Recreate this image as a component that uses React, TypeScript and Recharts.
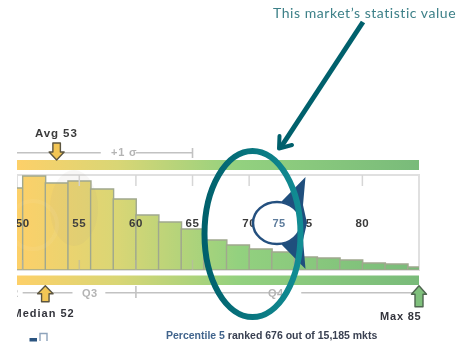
import React from "react";
import { ComposedChart, Bar, XAxis, YAxis, ReferenceArea, ReferenceLine, ReferenceDot } from "recharts";

const binCenters = [49, 51, 53, 55, 57, 59, 61, 63, 65, 67, 69, 71, 73, 75, 77, 79, 81, 83, 85];
const binHeights = [82, 94, 87, 89, 81, 71, 55, 48, 41, 30, 25, 21, 18, 13, 12, 10, 7, 6, 3];
const tickValues = [50, 55, 60, 65, 70, 75, 80];
const topTickValues = [55, 60, 65, 70, 80];
const bottomTickValues = [50, 55, 60, 65];
const avgValue = 53;
const medianValue = 52;
const maxValue = 85;
const sigmaEnd = 65;
const q3End = 60;
const xMin = 49.5;
const xMax = 85;

const data = binCenters.map((x, i) => ({ x, h: binHeights[i] }));

const WIDTH = 466;
const HEIGHT = 355;
const BASE = 270; // pixel row of zero
const py = (px: number) => BASE - px;
const FONT = '"Liberation Sans", Arial, sans-serif';
const GREY = "#c2c2c2";

const arrowShape = (dir: "up" | "down", fill: string, stroke: string, len: number, headW: number, shaftW: number, headLen: number) => (p: any) => {
  const { cx, cy } = p;
  const s = dir === "down" ? -1 : 1;
  const pts = [
    [0, 0],
    [headW / 2, s * headLen],
    [shaftW / 2, s * headLen],
    [shaftW / 2, s * len],
    [-shaftW / 2, s * len],
    [-shaftW / 2, s * headLen],
    [-headW / 2, s * headLen],
  ]
    .map(([a, b]) => `${cx + a},${cy + b}`)
    .join(" ");
  return <polygon points={pts} fill={fill} stroke={stroke} strokeWidth={1.4} strokeLinejoin="round" />;
};

function Overlay() {
  return (
    <svg width={WIDTH} height={HEIGHT} style={{ position: "absolute", left: 0, top: 0 }}>
      <defs>
        <linearGradient id="ring" x1="0" y1="0" x2="1" y2="0">
          <stop offset="0%" stopColor="#00606c" />
          <stop offset="100%" stopColor="#128d94" />
        </linearGradient>
      </defs>
      {/* faint watermark over the bars */}
      <ellipse cx={74} cy={208} rx={24} ry={38} fill="#a89a90" opacity={0.08} />
      <circle cx={33} cy={225} r={24} fill="none" stroke="#ffffff" strokeWidth={4} opacity={0.06} />
      {/* text outside the plot */}
      <text x={35} y={137} fontFamily={FONT} fontWeight={700} fontSize={11.5} letterSpacing={0.9} fill="#3b3b3b">Avg 53</text>
      <text x={111} y={156} fontFamily={FONT} fontWeight={700} fontSize={11} letterSpacing={0.8} fill="#b4b4b4">+1 σ</text>
      <text x={3} y={297} fontFamily={FONT} fontWeight={700} fontSize={11} letterSpacing={0.4} fill="#b4b4b4">Q2</text>
      <text x={82} y={297} fontFamily={FONT} fontWeight={700} fontSize={11} letterSpacing={0.4} fill="#b4b4b4">Q3</text>
      <text x={268} y={297} fontFamily={FONT} fontWeight={700} fontSize={11} letterSpacing={0.4} fill="#b4b4b4">Q4</text>
      <text x={12.5} y={317} fontFamily={FONT} fontWeight={700} fontSize={11} letterSpacing={1} fill="#33343c">Median 52</text>
      <text x={380} y={320} fontFamily={FONT} fontWeight={700} fontSize={11} letterSpacing={0.8} fill="#33343c">Max 85</text>
      <text x={166} y={339} fontFamily={FONT} fontWeight={700} fontSize={10.5} fill="#41648c">
        Percentile 5<tspan fill="#3a4152"> ranked 676 out of 15,185 mkts</tspan>
      </text>
      <rect x={0} y={120} width={17} height={210} fill="#fff" />
      {/* small legend glyph */}
      <rect x={29.5} y={338} width={7.5} height={3.5} fill="#2b5480" />
      <path d="M40 341 V333.5 H47 V341" fill="none" stroke="#8ea3bb" strokeWidth={1.4} />
      {/* annotation */}
      <text x={273} y={18} fontFamily='"Lato", sans-serif' fontSize={14} letterSpacing={0.55} fill="#3d8088">This market’s statistic value</text>
      <polygon points="305.5,177 282,201 282,245 305.5,269 303,240 307,223 303,205" fill="#1f4f7d" />
      <ellipse cx={277} cy={223} rx={24} ry={21} fill="#fff" stroke="#24507f" strokeWidth={2.5} />
      <text x={279} y={227} textAnchor="middle" fontFamily={FONT} fontWeight={700} fontSize={11} letterSpacing={0.4} fill="#5d7c9c">75</text>
      <ellipse cx={252.5} cy={234} rx={48} ry={83} fill="none" stroke="url(#ring)" strokeWidth={6} />
      <path d="M363 22 L281 147" stroke="#00606c" strokeWidth={5} fill="none" />
      <path d="M279.5 136 L279 148.5 L292 145" stroke="#00606c" strokeWidth={4} strokeLinecap="round" strokeLinejoin="round" fill="none" />
    </svg>
  );
}

export default function App() {
  return (
    <div style={{ position: "absolute", left: 0, top: 0, width: WIDTH, height: HEIGHT, background: "#fff", overflow: "hidden", filter: "blur(0.35px)" }}>
      <ComposedChart width={WIDTH} height={HEIGHT} data={data} margin={{ top: 175, right: 47, bottom: 85, left: 17 }} barCategoryGap={0} barGap={0}>
        <defs>
          <linearGradient id="heat" gradientUnits="userSpaceOnUse" x1={17} y1={0} x2={419} y2={0}>
            <stop offset="0%" stopColor="#fdd069" />
            <stop offset="25%" stopColor="#d9d675" />
            <stop offset="55%" stopColor="#93d17f" />
            <stop offset="100%" stopColor="#79bb7a" />
          </linearGradient>
        </defs>
        <XAxis dataKey="x" type="number" domain={[xMin, xMax]} allowDataOverflow hide />
        <YAxis hide type="number" domain={[0, 95]} allowDataOverflow />
        <Bar dataKey="h" fill="url(#heat)" stroke="#a0a88e" strokeWidth={1.4} isAnimationActive={false} />
        <ReferenceArea x1={xMin} x2={xMax} y1={0} y2={95} fill="none" stroke="#e0e0e0" strokeWidth={2} ifOverflow="visible" />
        <ReferenceArea x1={xMin} x2={xMax} y1={py(170)} y2={py(160)} fill="url(#heat)" fillOpacity={1} ifOverflow="visible" />
        <ReferenceArea x1={xMin} x2={xMax} y1={py(285)} y2={py(275.5)} fill="url(#heat)" fillOpacity={1} ifOverflow="visible" />
        {topTickValues.map((v) => (
          <ReferenceLine key={"t" + v} segment={[{ x: v, y: py(175) }, { x: v, y: py(186) }]} stroke="#d6d6d6" strokeWidth={1.5} ifOverflow="visible" />
        ))}
        {bottomTickValues.map((v) => (
          <ReferenceLine key={"b" + v} segment={[{ x: v, y: py(260) }, { x: v, y: py(270) }]} stroke="#b8b8a8" strokeOpacity={0.6} strokeWidth={1.5} ifOverflow="visible" />
        ))}
        {tickValues.map((v) => (
          <ReferenceDot
            key={"l" + v}
            x={v}
            y={py(223)}
            ifOverflow="visible"
            shape={(p: any) => (
              <text x={p.cx} y={p.cy + 4} textAnchor="middle" fontFamily={FONT} fontWeight={700} fontSize={11.5} letterSpacing={0.6} fill="#3a3a3a">
                {v}
              </text>
            )}
          />
        ))}
        <ReferenceLine segment={[{ x: xMin, y: py(152.7) }, { x: 56.9, y: py(152.7) }]} stroke={GREY} strokeWidth={1.6} ifOverflow="visible" />
        <ReferenceLine segment={[{ x: 60, y: py(152.7) }, { x: sigmaEnd, y: py(152.7) }]} stroke={GREY} strokeWidth={1.6} ifOverflow="visible" />
        <ReferenceLine segment={[{ x: sigmaEnd, y: py(148) }, { x: sigmaEnd, y: py(158) }]} stroke={GREY} strokeWidth={1.6} ifOverflow="visible" />
        <ReferenceLine segment={[{ x: 50, y: py(292.7) }, { x: 54.4, y: py(292.7) }]} stroke={GREY} strokeWidth={1.6} ifOverflow="visible" />
        <ReferenceLine segment={[{ x: 57.3, y: py(292.7) }, { x: 72.7, y: py(292.7) }]} stroke={GREY} strokeWidth={1.6} ifOverflow="visible" />
        <ReferenceLine segment={[{ x: 74.6, y: py(292.7) }, { x: xMax, y: py(292.7) }]} stroke={GREY} strokeWidth={1.6} ifOverflow="visible" />
        <ReferenceLine segment={[{ x: q3End, y: py(286) }, { x: q3End, y: py(298) }]} stroke={GREY} strokeWidth={1.6} ifOverflow="visible" />
        <ReferenceDot x={avgValue} y={py(160)} ifOverflow="visible" shape={arrowShape("down", "#f3c655", "#5c5540", 17, 15, 7.5, 8)} />
        <ReferenceDot x={medianValue} y={py(285.7)} ifOverflow="visible" shape={arrowShape("up", "#f3c655", "#5c5540", 16, 15.5, 7.5, 8)} />
        <ReferenceDot x={maxValue} y={py(285.7)} ifOverflow="visible" shape={arrowShape("up", "#7fc07c", "#4f6650", 21, 15, 8, 8.5)} />
        <ReferenceArea x1={58.1} x2={58.45} y1={py(214)} y2={py(202)} fill="#e4d62f" fillOpacity={1} ifOverflow="visible" />
      </ComposedChart>
      <Overlay />
    </div>
  );
}
